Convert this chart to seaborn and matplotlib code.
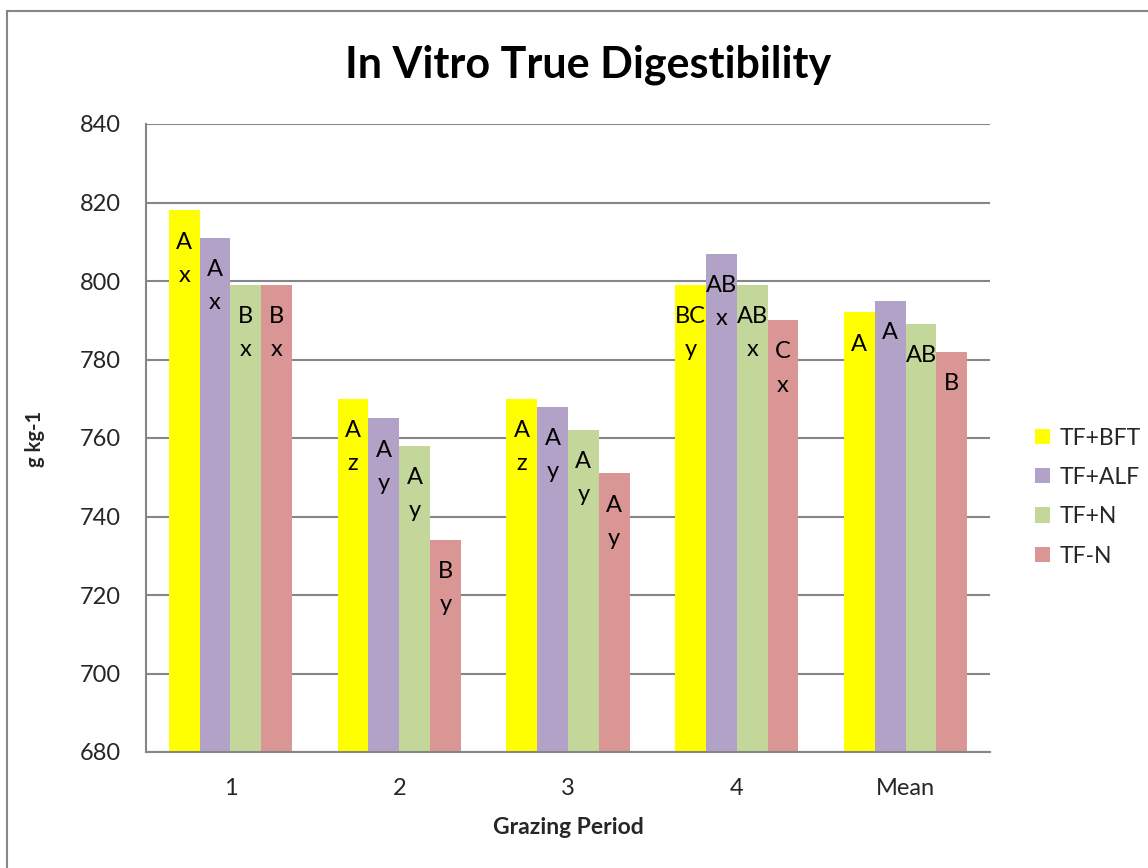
import matplotlib
matplotlib.use("Agg")
import matplotlib.pyplot as plt
from matplotlib.lines import Line2D
import seaborn as sns
import pandas as pd

periods = ["1", "2", "3", "4", "Mean"]
treatments = ["TF+BFT", "TF+ALF", "TF+N", "TF-N"]
tf_bft = [818, 770, 770, 799, 792]
tf_alf = [811, 765, 768, 807, 795]
tf_n_plus = [799, 758, 762, 799, 789]
tf_n_minus = [799, 734, 751, 790, 782]
lab_bft = ["A\nx", "A\nz", "A\nz", "BC\ny", "A"]
lab_alf = ["A\nx", "A\ny", "A\ny", "AB\nx", "A"]
lab_n_plus = ["B\nx", "A\ny", "A\ny", "AB\nx", "AB"]
lab_n_minus = ["B\nx", "B\ny", "A\ny", "C\nx", "B"]
colors = ["#FFFF00", "#B3A2C7", "#C4D79B", "#D99694"]

series = [tf_bft, tf_alf, tf_n_plus, tf_n_minus]
labels = [lab_bft, lab_alf, lab_n_plus, lab_n_minus]
rows = []
for t, vals in zip(treatments, series):
    for p, v in zip(periods, vals):
        rows.append({"period": p, "treatment": t, "value": v})
df = pd.DataFrame(rows)

sns.set_style("white")
plt.rcParams["font.family"] = ["Lato", "DejaVu Sans"]

W, H = 1148, 868
fig = plt.figure(figsize=(W / 100, H / 100), dpi=100)
ax = fig.add_axes([146 / W, 1 - 752 / H, (990 - 146) / W, (752 - 124) / H])

sns.barplot(data=df, x="period", y="value", hue="treatment", order=periods,
            hue_order=treatments, palette=colors, width=0.73, saturation=1,
            linewidth=0, edgecolor="none", ax=ax)

grid_c = "#868686"
ax.set_ylim(680, 840)
ax.set_yticks(range(680, 841, 20))
ax.yaxis.grid(True, color=grid_c, linewidth=1.5)
ax.set_axisbelow(True)
for s in ["top", "right"]:
    ax.spines[s].set_visible(False)
for s in ["left", "bottom"]:
    ax.spines[s].set_color(grid_c)
    ax.spines[s].set_linewidth(1.5)
ax.tick_params(axis="y", length=6, width=1.5, color=grid_c, pad=12, labelsize=17)
ax.tick_params(axis="x", length=0, pad=19, labelsize=17)
ax.set_xlabel("")
ax.set_ylabel("")

# in-bar labels
for cont, labs in zip(ax.containers, labels):
    for bar, lab in zip(cont, labs):
        xc = bar.get_x() + bar.get_width() / 2
        top = bar.get_y() + bar.get_height()
        for i, line in enumerate(lab.split("\n")):
            ax.annotate(line, (xc, top), xytext=(0, -27.5 - 23.8 * i),
                        textcoords="offset points", ha="center", va="baseline",
                        fontsize=17, color="black")

handles, hlabels = ax.get_legend_handles_labels()
if ax.get_legend() is not None:
    ax.get_legend().remove()
fig.legend(handles, hlabels, loc="center left", bbox_to_anchor=(1014 / W, 1 - 497 / H),
           frameon=False, fontsize=16.5, handlelength=0.65, handleheight=0.65,
           handletextpad=0.45, labelspacing=0.8)

fig.text(588 / W, 1 - 65 / H, "In Vitro True Digestibility", ha="center", va="center",
         fontsize=31, fontweight="bold", color="black")
fig.text(568 / W, 1 - 828 / H, "Grazing Period", ha="center", va="center",
         fontsize=16.5, fontweight="bold")
fig.text(35 / W, 1 - 439 / H, "g kg-1", ha="center", va="center", rotation=90,
         fontsize=14.5, fontweight="bold")

# outer chart border (top and left visible)
fig.add_artist(Line2D([7 / W, 7 / W], [0, 1 - 11 / H], color=grid_c, linewidth=1.5))
fig.add_artist(Line2D([7 / W, 1], [1 - 11 / H, 1 - 11 / H], color=grid_c, linewidth=1.5))

fig.savefig("out.png", dpi=100)
